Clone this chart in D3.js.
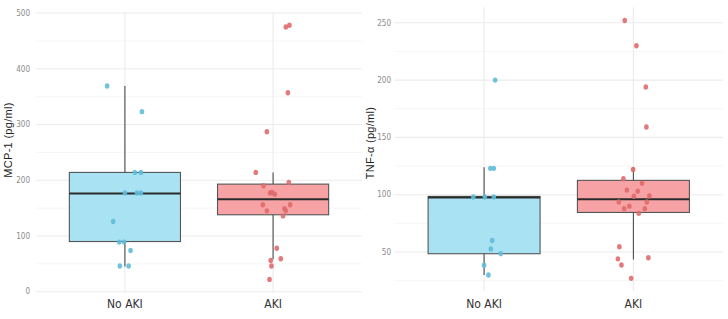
<!DOCTYPE html>
<meta charset="utf-8">
<style>
body { margin: 0; background: #fff; }
.grid-major { stroke: #ebebeb; stroke-width: 1.1px; }
.grid-minor { stroke: #f4f4f4; stroke-width: 0.8px; }
.tick-label { font: 8px "Liberation Sans Narrow", "DejaVu Sans Condensed", sans-serif; fill: #8a8a8a; }
.cat-label { font: 12px "Liberation Sans Narrow", "DejaVu Sans Condensed", sans-serif; fill: #333; }
.y-title { font: 11px "Liberation Sans", Arial, sans-serif; fill: #222; letter-spacing: 0.3px; }
</style>
<body>
<script src="https://cdn.jsdelivr.net/npm/d3@7"></script>
<script>

// categories
var groups = ["No AKI", "AKI"];

// box stats: [whiskerLow, Q1, median, Q3, whiskerHigh]
var mcpBox = [[45, 90, 176, 214, 369], [58, 138, 166, 193, 214]];
var tnfBox = [[30, 48.5, 97.5, 98.5, 124], [43.5, 84.5, 96, 112.5, 124]];

// jittered points: values and horizontal jitter (in category units)
var mcpNoAki = [369, 323, 214, 214, 177, 177, 177, 126, 89, 89, 74, 46, 46];
var mcpNoAkiJit = [-0.12, 0.115, 0.067, 0.108, 0, 0.081, 0.108, -0.079, -0.038, -0.005, 0.038, -0.034, 0.025];
var mcpAki = [475, 478, 357, 287, 214, 190, 196, 177, 178, 175, 156, 156, 145, 149, 145, 136, 78, 59, 56, 46, 22];
var mcpAkiJit = [0.086, 0.11, 0.10, -0.042, -0.117, -0.065, 0.106, -0.02, -0.007, 0.011, -0.069, 0.115, -0.042, 0.077, 0.086, 0.067, 0.025, 0.052, -0.016, -0.011, -0.024];

var tnfNoAki = [200, 123, 123, 98, 98, 98, 60, 52.6, 48.5, 38.4, 29.9];
var tnfNoAkiJit = [0.074, 0.042, 0.065, -0.072, 0.005, 0.065, 0.054, 0.045, 0.112, 0, 0.029];
var tnfAki = [252, 230, 194, 159, 122, 114, 110, 104, 103, 98.6, 98.8, 93.6, 93.6, 90, 87.8, 87.8, 83.7, 54.6, 44, 45, 38.6, 27];
var tnfAkiJit = [-0.058, 0.02, 0.083, 0.087, -0.002, -0.067, 0.058, -0.044, 0.029, 0.003, 0.107, -0.098, 0.09, -0.027, -0.062, 0.076, 0.036, -0.094, -0.104, 0.1, -0.08, -0.015];

var mcpTicks = [0, 100, 200, 300, 400, 500];
var mcpMinor = [50, 150, 250, 350, 450];
var tnfTicks = [50, 100, 150, 200, 250];
var tnfMinor = [25, 75, 125, 175, 225];

var fills = ["#a9e2f3", "#f7a3a5"];
var dots = ["#5fbcd8", "#e06a6c"];

var svg = d3.select("body").append("svg")
    .attr("width", 728)
    .attr("height", 319);

function drawPanel(opt) {
    var x = d3.scaleLinear().domain([0.4, 2.6]).range(opt.xr);
    var y = d3.scaleLinear().domain(opt.yd).range(opt.yr);
    var g = svg.append("g");

    // minor grid
    g.selectAll(".grid-minor").data(opt.minor).enter().append("line")
        .attr("class", "grid-minor")
        .attr("x1", opt.xr[0]).attr("x2", opt.xr[1])
        .attr("y1", function(d) { return y(d); }).attr("y2", function(d) { return y(d); });
    // major grid
    g.selectAll(".grid-major.h").data(opt.ticks).enter().append("line")
        .attr("class", "grid-major h")
        .attr("x1", opt.xr[0]).attr("x2", opt.xr[1])
        .attr("y1", function(d) { return y(d); }).attr("y2", function(d) { return y(d); });
    g.selectAll(".grid-major.v").data(groups).enter().append("line")
        .attr("class", "grid-major v")
        .attr("x1", function(d, i) { return x(i + 1); }).attr("x2", function(d, i) { return x(i + 1); })
        .attr("y1", opt.yr[0]).attr("y2", opt.yr[1]);

    // tick labels
    g.selectAll(".tick-label").data(opt.ticks).enter().append("text")
        .attr("class", "tick-label")
        .attr("x", opt.xr[0] - opt.tickGap)
        .attr("y", function(d) { return y(d); })
        .attr("dy", "0.35em")
        .attr("text-anchor", "end")
        .text(function(d) { return d; });

    // category labels
    g.selectAll(".cat-label").data(groups).enter().append("text")
        .attr("class", "cat-label")
        .attr("x", function(d, i) { return x(i + 1); })
        .attr("y", 308)
        .attr("text-anchor", "middle")
        .text(function(d) { return d; });

    // y title
    g.append("text")
        .attr("class", "y-title")
        .attr("transform", "translate(" + opt.titleX + "," + opt.titleY + ") rotate(-90)")
        .attr("text-anchor", "middle")
        .text(opt.title);

    // boxes
    var bw = 0.375;
    opt.box.forEach(function(b, i) {
        var c = i + 1;
        g.append("line")
            .attr("x1", x(c)).attr("x2", x(c))
            .attr("y1", y(b[0])).attr("y2", y(b[4]))
            .attr("stroke", "#4d4d4d").attr("stroke-width", 1.1);
        g.append("rect")
            .attr("x", x(c - bw)).attr("width", x(c + bw) - x(c - bw))
            .attr("y", y(b[3])).attr("height", y(b[1]) - y(b[3]))
            .attr("fill", fills[i])
            .attr("stroke", "#555").attr("stroke-width", 1.1);
        g.append("line")
            .attr("x1", x(c - bw)).attr("x2", x(c + bw))
            .attr("y1", y(b[2])).attr("y2", y(b[2]))
            .attr("stroke", "#2b2b2b").attr("stroke-width", 2);
    });

    // jittered points
    opt.points.forEach(function(p, i) {
        g.selectAll(null).data(p.v).enter().append("ellipse")
            .attr("cx", function(d, k) { return x(i + 1 + p.j[k]); })
            .attr("cy", function(d) { return y(d); })
            .attr("rx", 2.3).attr("ry", 2.7)
            .attr("fill", dots[i])
            .attr("fill-opacity", 0.9);
    });
}

drawPanel({
    xr: [36, 362],
    yd: [-2, 502], yr: [292.8, 11.9],
    ticks: mcpTicks, minor: mcpMinor, tickGap: 6,
    box: mcpBox,
    points: [{ v: mcpNoAki, j: mcpNoAkiJit }, { v: mcpAki, j: mcpAkiJit }],
    title: "MCP-1 (pg/ml)", titleX: 12, titleY: 140
});

drawPanel({
    xr: [394.5, 723],
    yd: [15.7, 263.5], yr: [291.3, 7.3],
    ticks: tnfTicks, minor: tnfMinor, tickGap: 3.5,
    box: tnfBox,
    points: [{ v: tnfNoAki, j: tnfNoAkiJit }, { v: tnfAki, j: tnfAkiJit }],
    title: "TNF-α (pg/ml)", titleX: 374, titleY: 143
});
</script>
</body>
